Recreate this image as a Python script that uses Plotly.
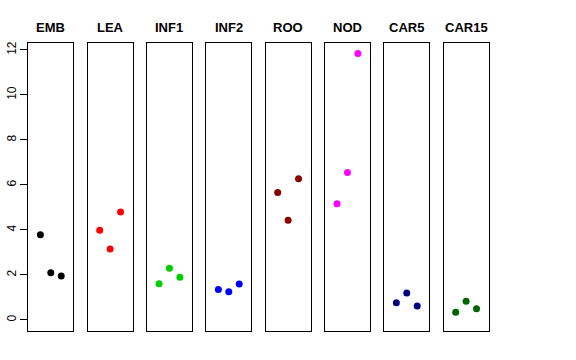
import plotly.graph_objects as go

categories = ["EMB", "LEA", "INF1", "INF2", "ROO", "NOD", "CAR5", "CAR15"]
colors = ["#000000", "#FF0000", "#00CD00", "#0000FF", "#8B0000", "#FF00FF", "#000080", "#006400"]
x_pos = [1, 2, 3]
emb = [3.79, 2.10, 1.96]
lea = [3.99, 3.16, 4.80]
inf1 = [1.61, 2.30, 1.90]
inf2 = [1.36, 1.26, 1.60]
roo = [5.67, 4.43, 6.28]
nod = [5.17, 6.55, 11.84]
car5 = [0.77, 1.20, 0.62]
car15 = [0.34, 0.83, 0.50]
series = [emb, lea, inf1, inf2, roo, nod, car5, car15]
y_ticks = [0, 2, 4, 6, 8, 10, 12]

W, H = 576, 360
left0, pw, step = 28.3, 45.0, 59.33
top_px, bot_px = 43.0, 330.7

fig = go.Figure()
layout = dict(
    width=W, height=H, margin=dict(l=0, r=0, t=0, b=0),
    paper_bgcolor="white", plot_bgcolor="white", showlegend=False,
    font=dict(family="Liberation Sans, Arial, sans-serif", color="black"),
)
annotations = []
ydom = [(H - bot_px) / H, (H - top_px) / H]
for i, (cat, col, vals) in enumerate(zip(categories, colors, series)):
    xa = "x" if i == 0 else f"x{i+1}"
    ya = "y" if i == 0 else f"y{i+1}"
    fig.add_trace(go.Scatter(x=x_pos, y=vals, mode="markers", xaxis=xa, yaxis=ya,
                             marker=dict(color=col, size=7, line=dict(width=0))))
    x0 = (left0 + step * i) / W
    x1 = (left0 + step * i + pw) / W
    layout["xaxis" if i == 0 else f"xaxis{i+1}"] = dict(
        domain=[x0, x1], range=[-0.16, 4.16], anchor=ya,
        showline=True, mirror=True, linecolor="black", linewidth=1,
        showticklabels=False, ticks="", showgrid=False, zeroline=False)
    ydict = dict(domain=ydom, range=[-0.476, 12.31], anchor=xa,
                 showline=True, mirror=True, linecolor="black", linewidth=1,
                 showgrid=False, zeroline=False)
    if i == 0:
        ydict.update(ticks="outside", ticklen=7, tickwidth=1, tickcolor="black",
                     tickvals=y_ticks, ticktext=[str(v) for v in y_ticks],
                     tickangle=-90, tickfont=dict(size=12, color="black"),
                     automargin=False)
    else:
        ydict.update(showticklabels=False, ticks="", matches="y")
    layout["yaxis" if i == 0 else f"yaxis{i+1}"] = ydict
    annotations.append(dict(text=f"<b>{cat}</b>", x=(x0 + x1) / 2, y=(H - 28) / H,
                            xref="paper", yref="paper", showarrow=False,
                            xanchor="center", yanchor="middle",
                            font=dict(size=13, color="black")))
layout["annotations"] = annotations
fig.update_layout(**layout)
fig.write_html("out.html", config={"displayModeBar": False},
               post_script="document.body.style.margin='0';")
